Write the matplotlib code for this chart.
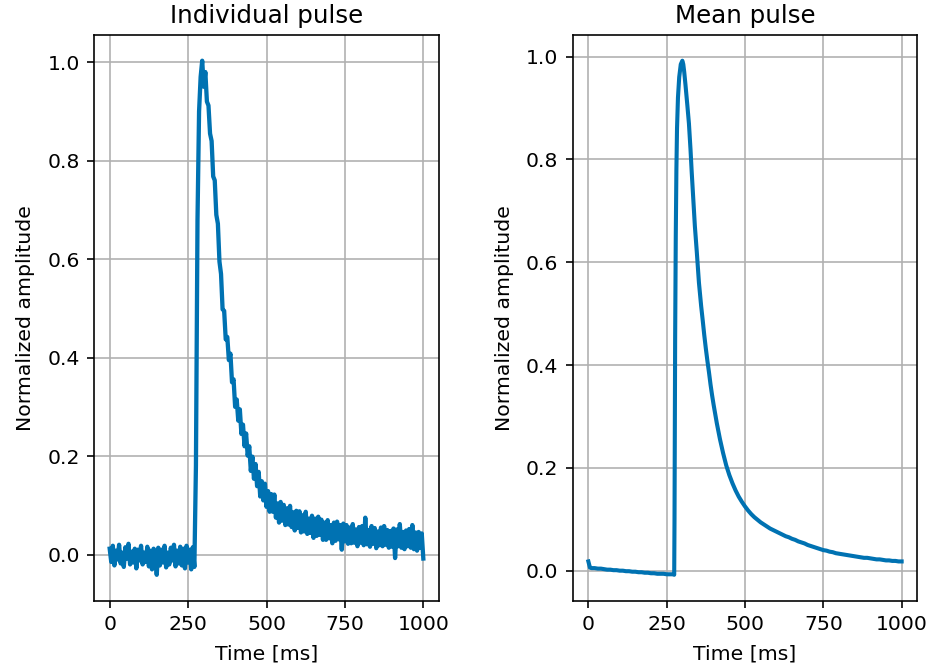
import numpy as np
import matplotlib
matplotlib.use("Agg")
import matplotlib.pyplot as plt

DPI = 147
LINE_COLOR = "#0072B2"

# ---------------- data ----------------
# Individual pulse, sampled every 5 ms from 0 ms
individual_step_ms = 5
individual_amp = [
    # 0 .. 270 ms baseline
    0.012, -0.015, 0.018, -0.022, 0.008, -0.010, 0.020, -0.018, 0.004, -0.025,
    0.015, -0.008, 0.022, -0.020, 0.006, -0.016, 0.012, -0.028, 0.010, -0.012,
    0.018, -0.020, 0.004, -0.015, 0.016, -0.024, 0.008, -0.030, 0.012, 0.006,
    -0.041, 0.014, -0.022, 0.010, -0.016, 0.018, -0.026, 0.004, -0.020, 0.014,
    -0.012, 0.020, -0.024, 0.008, -0.018, 0.016, -0.022, 0.012, -0.028, 0.018,
    -0.016, 0.010, -0.030, 0.015, -0.025,
    # 275 .. 305 ms rise and peak
    0.18, 0.68, 0.90, 0.97, 1.003, 0.95, 0.98,
    # 310 .. 1000 ms decay
    0.92, 0.912, 0.855, 0.84, 0.768, 0.76, 0.69, 0.672, 0.595, 0.57,
    0.498, 0.495, 0.437, 0.442, 0.395, 0.408, 0.35, 0.356, 0.30, 0.315,
    0.272, 0.295, 0.245, 0.264, 0.22, 0.246, 0.201, 0.22, 0.17, 0.199,
    0.154, 0.184, 0.139, 0.168, 0.118, 0.149, 0.11, 0.144, 0.097, 0.129,
    0.087, 0.123, 0.087, 0.122, 0.075, 0.104, 0.065, 0.107, 0.069, 0.101,
    0.06, 0.094, 0.061, 0.099, 0.056, 0.086, 0.049, 0.089, 0.054, 0.088,
    0.045, 0.08, 0.047, 0.087, 0.042, 0.073, 0.044, 0.079, 0.034, 0.073,
    0.038, 0.077, 0.04, 0.071, 0.03, 0.065, 0.03, 0.07, 0.033, 0.06,
    0.023, 0.065, 0.028, 0.067, 0.031, 0.06, 0.01, 0.063, 0.027, 0.06,
    0.022, 0.055, 0.023, 0.062, 0.024, 0.051, 0.017, 0.056, 0.024, 0.058,
    0.019, 0.075, 0.021, 0.05, 0.016, 0.058, 0.022, 0.054, 0.013, 0.047,
    0.019, 0.055, 0.017, 0.058, 0.02, 0.05, 0.014, 0.048, 0.016, 0.053,
    -0.007, 0.051, 0.017, 0.062, 0.014, 0.046, 0.011, 0.049, 0.017, 0.052,
    0.014, 0.06, 0.011, 0.045, 0.008, 0.046, 0.014, 0.043, -0.008,
]
individual_time = np.arange(len(individual_amp)) * individual_step_ms

# Mean pulse
mean_time = [
    0, 5, 10, 20, 30, 40, 50, 60, 70, 80, 90, 100, 110, 120, 130, 140, 150,
    160, 170, 180, 190, 200, 210, 220, 230, 240, 250, 260, 270, 274,
    275, 277, 279, 281, 283, 286, 290, 295, 300, 303, 306, 310, 316, 321,
    326, 330, 335, 340, 346, 353, 360, 365, 370, 375, 380, 385, 390, 395,
    400, 410, 420, 430, 440, 450, 460, 470, 480, 490, 500,
    510, 520, 530, 540, 550, 560, 570, 580, 590, 600, 610, 620, 630, 640,
    650, 660, 670, 680, 690, 700, 710, 720, 730, 740, 750, 760, 770, 780,
    790, 800, 810, 820, 830, 840, 850, 860, 870, 880, 890, 900, 910, 920,
    930, 940, 950, 960, 970, 980, 990, 1000,
]
mean_amp = [
    0.018, 0.006, 0.005, 0.005, 0.004, 0.004, 0.003, 0.002, 0.002, 0.001,
    0.001, 0.0, 0.0, -0.001, -0.001, -0.002, -0.002, -0.003, -0.003, -0.004,
    -0.004, -0.005, -0.005, -0.006, -0.006, -0.006, -0.007, -0.007, -0.007, -0.008,
    0.10, 0.45, 0.65, 0.78, 0.86, 0.92, 0.96, 0.985, 0.992, 0.985, 0.97,
    0.945, 0.905, 0.87, 0.82, 0.774, 0.722, 0.67, 0.621, 0.56, 0.515, 0.487,
    0.458, 0.432, 0.408, 0.386, 0.362, 0.341, 0.322, 0.287, 0.256, 0.229,
    0.205, 0.186, 0.170, 0.156, 0.144, 0.134, 0.125,
    0.117, 0.110, 0.104, 0.099, 0.094, 0.090, 0.086, 0.082, 0.079, 0.076,
    0.073, 0.070, 0.067, 0.065, 0.062, 0.060, 0.057, 0.055, 0.053, 0.050,
    0.048, 0.046, 0.044, 0.042, 0.040, 0.039, 0.037, 0.036, 0.034, 0.033,
    0.032, 0.031, 0.030, 0.029, 0.028, 0.027, 0.026, 0.025, 0.025, 0.024,
    0.023, 0.022, 0.022, 0.021, 0.020, 0.020, 0.019, 0.019, 0.018, 0.018,
]

titles = ["Individual pulse", "Mean pulse"]
xlabel = "Time [ms]"
ylabel = "Normalized amplitude"
xticks = [0, 250, 500, 750, 1000]

# ---------------- figure ----------------
fig = plt.figure(figsize=(931 / DPI, 672 / DPI), dpi=DPI)
ax1 = fig.add_axes([94 / 931, 1 - 600.5 / 672, 345 / 931, 565.5 / 672])
ax2 = fig.add_axes([572.7 / 931, 1 - 600.5 / 672, 344.6 / 931, 565.5 / 672])

series = [(individual_time, individual_amp, 2.1), (mean_time, mean_amp, 2.0)]
for ax, (t, y, lw), title in zip([ax1, ax2], series, titles):
    ax.plot(t, y, color=LINE_COLOR, linewidth=lw)
    ax.set_title(title, fontsize=12)
    ax.set_xlabel(xlabel, labelpad=5)
    ax.set_ylabel(ylabel, labelpad=6)
    ax.set_xticks(xticks)
    ax.grid(True)

fig.savefig("out.png", dpi=DPI)
